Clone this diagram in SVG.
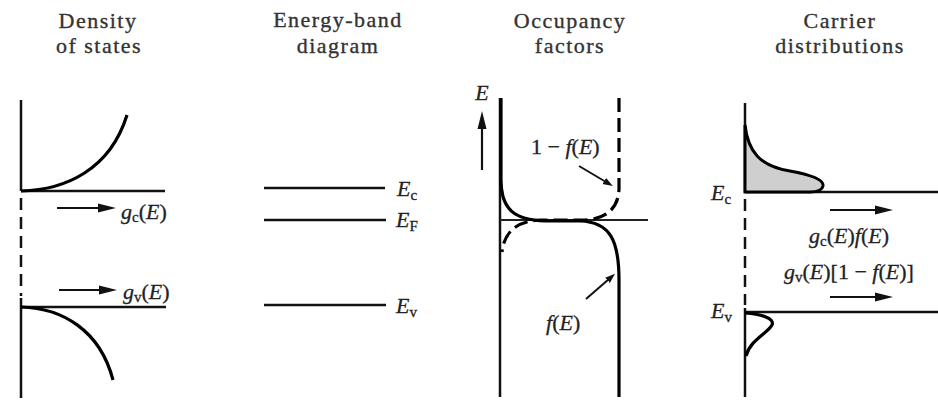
<svg xmlns="http://www.w3.org/2000/svg" width="938" height="401" viewBox="0 0 938 401">
<defs>
<style>
.title{font-family:"Liberation Serif","Times New Roman",serif;font-size:22px;fill:#333;stroke:#333;stroke-width:0.35;text-anchor:middle;letter-spacing:1.5px}
.lbl{font-family:"Liberation Serif","Times New Roman",serif;font-size:22px;fill:#222;stroke:#222;stroke-width:0.3}
.it{font-style:italic}
.sub{font-size:15px;font-style:normal}
.ax{stroke:#111;stroke-width:2.5;fill:none}
.cv{stroke:#000;stroke-width:3.2;fill:none}
.thin{stroke:#222;stroke-width:2;fill:none}
.dash{stroke:#111;stroke-width:2.5;fill:none;stroke-dasharray:12 7}
.arr{stroke:#111;stroke-width:2.2;fill:none;marker-end:url(#ah)}
.ptr{stroke:#111;stroke-width:2;fill:none;marker-end:url(#ahs)}
</style>
<marker id="ah" markerUnits="userSpaceOnUse" markerWidth="18" markerHeight="10" refX="2" refY="5" orient="auto" viewBox="0 0 18 10">
<path d="M0,0.5 L18,5 L0,9.5 z" fill="#111"/>
</marker>
<marker id="ahs" markerUnits="userSpaceOnUse" markerWidth="10" markerHeight="8" refX="2" refY="4" orient="auto" viewBox="0 0 10 8">
<path d="M0,0.5 L10,4 L0,7.5 z" fill="#111"/>
</marker>
</defs>
<rect width="938" height="401" fill="#fff"/>

<g id="panel-density">
<text class="title" x="98" y="28">Density</text>
<text class="title" x="99" y="53">of states</text>
<line class="ax" x1="21" y1="100" x2="21" y2="191"/>
<line class="dash" x1="21" y1="198" x2="21" y2="296"/>
<line class="ax" x1="21" y1="298" x2="21" y2="398"/>
<line class="ax" x1="21" y1="191" x2="165" y2="191"/>
<line class="ax" x1="21" y1="307" x2="166" y2="307"/>
<path class="cv" d="M21,191 C65,190 110,170 127,115"/>
<path class="cv" d="M21,307 C62,308 100,330 113,380"/>
</g>

<g id="panel-band">
<text class="title" x="338" y="27">Energy-band</text>
<text class="title" x="338" y="53">diagram</text>
<line class="ax" x1="264" y1="188" x2="385" y2="188"/>
<line class="ax" x1="264" y1="220" x2="386" y2="220"/>
<line class="ax" x1="264" y1="305" x2="386" y2="305"/>
<text class="lbl" x="397" y="196"><tspan class="it">E</tspan><tspan class="sub" dy="4">c</tspan></text>
<text class="lbl" x="396" y="227"><tspan class="it">E</tspan><tspan class="sub" dy="4">F</tspan></text>
<text class="lbl" x="396" y="313"><tspan class="it">E</tspan><tspan class="sub" dy="4">v</tspan></text>
</g>

<g id="panel-occupancy">
<text class="title" x="570" y="28">Occupancy</text>
<text class="title" x="570" y="53">factors</text>
<text class="lbl it" x="482" y="100" text-anchor="middle">E</text>
<line class="arr" x1="482" y1="170" x2="482" y2="127"/>
<line class="ax" x1="500" y1="98" x2="500" y2="397"/>
<line class="thin" x1="500" y1="220" x2="648" y2="220"/>
<path class="cv" d="M619,397 L619,280 C619,240 610,222 580,221 L545,221 C515,220 501,210 501,180 L501,98"/>
<path class="cv" style="stroke-dasharray:14 6" d="M619,98 L619,188 C619,208 606,219 585,220 L540,220 C517,221 504,232 502,252"/>
<text class="lbl" x="531" y="154"><tspan>1 − </tspan><tspan class="it">f</tspan><tspan>(</tspan><tspan class="it">E</tspan><tspan>)</tspan></text>
<line class="ptr" x1="579" y1="166" x2="606" y2="182"/>
<text class="lbl" x="546" y="330"><tspan class="it">f</tspan><tspan>(</tspan><tspan class="it">E</tspan><tspan>)</tspan></text>
<line class="ptr" x1="586" y1="299" x2="609" y2="279"/>
</g>

<g id="panel-carrier">
<text class="title" x="840" y="28">Carrier</text>
<text class="title" x="840" y="53">distributions</text>
<line class="ax" x1="745" y1="103" x2="745" y2="192"/>
<line class="dash" x1="745" y1="199" x2="745" y2="305"/>
<line class="ax" x1="745" y1="308" x2="745" y2="397"/>
<line class="ax" x1="745" y1="192" x2="938" y2="192"/>
<line class="ax" x1="745" y1="312" x2="938" y2="312"/>
<path d="M745,125 C748,152 760,166 790,171 C812,175 824,180 823,186 C822,191 815,192 810,192 L745,192 Z" fill="#cfcfcf" stroke="#000" stroke-width="3"/>
<path class="cv" d="M745,313 C760,314 775,318 772,325 C768,333 750,340 746,356"/>
<text class="lbl" x="711" y="200"><tspan class="it">E</tspan><tspan class="sub" dy="4">c</tspan></text>
<text class="lbl" x="711" y="318"><tspan class="it">E</tspan><tspan class="sub" dy="4">v</tspan></text>
<text class="lbl" x="809" y="243"><tspan class="it">g</tspan><tspan class="sub" dy="3">c</tspan><tspan dy="-3">(</tspan><tspan class="it">E</tspan><tspan>)</tspan><tspan class="it">f</tspan><tspan>(</tspan><tspan class="it">E</tspan><tspan>)</tspan></text>
<text class="lbl" x="784" y="279"><tspan class="it">g</tspan><tspan class="sub" dy="3">v</tspan><tspan dy="-3">(</tspan><tspan class="it">E</tspan><tspan>)[1 − </tspan><tspan class="it">f</tspan><tspan>(</tspan><tspan class="it">E</tspan><tspan>)]</tspan></text>
</g>

<g id="connectors">
<line class="arr" x1="57" y1="208" x2="100" y2="208"/>
<line class="arr" x1="59" y1="290" x2="101" y2="290"/>
<line class="arr" x1="830" y1="210" x2="877" y2="210"/>
<line class="arr" x1="830" y1="297" x2="877" y2="297"/>
</g>

<g id="labels-density">
<text class="lbl" x="121" y="219"><tspan class="it">g</tspan><tspan class="sub" dy="3">c</tspan><tspan dy="-3">(</tspan><tspan class="it">E</tspan><tspan>)</tspan></text>
<text class="lbl" x="123" y="299"><tspan class="it">g</tspan><tspan class="sub" dy="3">v</tspan><tspan dy="-3">(</tspan><tspan class="it">E</tspan><tspan>)</tspan></text>
</g>
</svg>
